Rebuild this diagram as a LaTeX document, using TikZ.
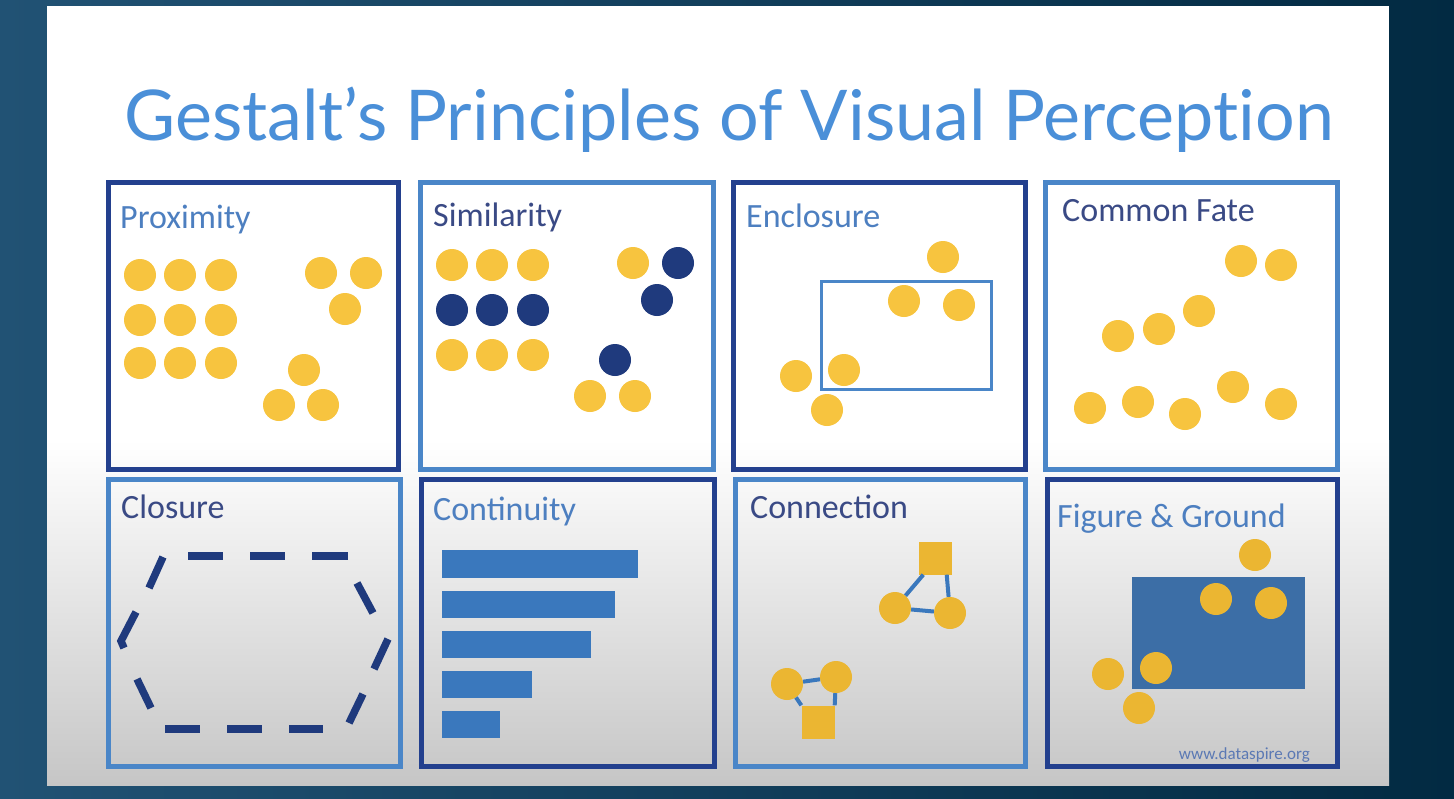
\documentclass[tikz,border=0pt]{standalone}
\usepackage{fontspec}
\setmainfont{Carlito}
\newfontfamily\titlefont[Ligatures=NoCommon]{Lato}
\definecolor{bgL}{HTML}{215274}
\definecolor{bgR}{HTML}{022A42}
\definecolor{titleC}{HTML}{4A8FD8}
\definecolor{navyB}{HTML}{23408E}
\definecolor{lightB}{HTML}{4A86C8}
\definecolor{lblM}{HTML}{4D7FC0}
\definecolor{lblD}{HTML}{3A4A85}
\definecolor{dotY}{HTML}{F7C43F}
\definecolor{dotY2}{HTML}{EBB632}
\definecolor{dotN}{HTML}{1F3A7D}
\definecolor{barB}{HTML}{3A78BD}
\definecolor{figB}{HTML}{3C6EA6}
\definecolor{grayEnd}{HTML}{C6C6C6}
\definecolor{urlC}{HTML}{5B79B4}
\begin{document}
\begin{tikzpicture}[x=1pt,y=-1pt,
  panelA/.style={draw=navyB, line width=5pt},
  panelB/.style={draw=lightB, line width=5pt},
  ydot/.style={circle, fill=dotY, minimum size=32pt, inner sep=0pt},
  ydotb/.style={circle, fill=dotY2, minimum size=32pt, inner sep=0pt},
  ndot/.style={circle, fill=dotN, minimum size=32pt, inner sep=0pt},
  ysq/.style={rectangle, fill=dotY2, minimum size=33pt, inner sep=0pt},
  lbl/.style={anchor=base west, inner sep=0pt, font=\fontsize{34}{39}\selectfont},
  dashseg/.style={draw=dotN, line width=7.5pt},
  bar/.style={fill=barB},
  link/.style={draw=barB, line width=4pt}]
\useasboundingbox (0,0) rectangle (1454,798);
% background
\shade[left color=bgL, right color=bgR] (0,0) rectangle (1454,798);
\fill[white] (47,6) rectangle (1389,785);
\shade[top color=white, bottom color=grayEnd] (47,440) rectangle (1389,785);
% title
\node[anchor=base, inner sep=0pt, text=titleC, font=\titlefont\fontsize{70}{80}\selectfont] (title) at (729,140) {Gestalt’s Principles of Visual Perception};

% panels
\draw[panelA] (108,182) rectangle (398,469);
\draw[panelB] (420,182) rectangle (713,469);
\draw[panelA] (733,182) rectangle (1025,469);
\draw[panelB] (1045,182) rectangle (1337,469);
\draw[panelB] (108,479) rectangle (400,766);
\draw[panelA] (421,479) rectangle (714,766);
\draw[panelB] (735,479) rectangle (1025,766);
\draw[panelA] (1047,479) rectangle (1337,766);

% labels
\node[lbl, text=lblM] (lprox) at (120,228) {Proximity};
\node[lbl, text=lblD] (lsim) at (433,226) {Similarity};
\node[lbl, text=lblM] (lenc) at (746,227) {Enclosure};
\node[lbl, text=lblD] (lcf) at (1062,221) {Common Fate};
\node[lbl, text=lblD] (lclo) at (121,518) {Closure};
\node[lbl, text=lblM] (lcont) at (433,520) {Continuity};
\node[lbl, text=lblD] (lconn) at (750,518) {Connection};
\node[lbl, text=lblM] (lfig) at (1057,527) {Figure \& Ground};

% Proximity
\foreach \i/\x in {1/140,2/180,3/221}{
  \foreach \j/\y in {1/275,2/320,3/363}{
    \node[ydot] (p\i\j) at (\x,\y) {};
  }
}
\node[ydot] (pa) at (321,273) {};
\node[ydot] (pb) at (366,273) {};
\node[ydot] (pc) at (345,309) {};
\node[ydot] (pd) at (304,370) {};
\node[ydot] (pe) at (279,405) {};
\node[ydot] (pf) at (323,405) {};

% Similarity
\foreach \i/\x in {1/452,2/492,3/533}{
  \node[ydot] (s\i a) at (\x,265) {};
  \node[ndot] (s\i b) at (\x,310) {};
  \node[ydot] (s\i c) at (\x,355) {};
}
\node[ydot] (sa) at (633,263) {};
\node[ndot] (sb) at (678,263) {};
\node[ndot] (sc) at (657,300) {};
\node[ndot] (sd) at (615,360) {};
\node[ydot] (se) at (590,396) {};
\node[ydot] (sf) at (635,396) {};

% Enclosure
\draw[draw=lightB, line width=3pt] (821,281) rectangle (991,389);
\node[ydot] (ea) at (943,257) {};
\node[ydot] (eb) at (904,301) {};
\node[ydot] (ec) at (959,305) {};
\node[ydot] (ed) at (796,376) {};
\node[ydot] (ee) at (844,370) {};
\node[ydot] (ef) at (827,410) {};

% Common Fate
\node[ydot] (c1) at (1241,261) {};
\node[ydot] (c2) at (1281,265) {};
\node[ydot] (c3) at (1199,311) {};
\node[ydot] (c4) at (1159,329) {};
\node[ydot] (c5) at (1118,336) {};
\node[ydot] (c6) at (1090,408) {};
\node[ydot] (c7) at (1138,402) {};
\node[ydot] (c8) at (1185,414) {};
\node[ydot] (c9) at (1233,387) {};
\node[ydot] (c10) at (1281,404) {};

% Closure (dashed hexagon)
\draw[dashseg] (188,556) -- (223,556);
\draw[dashseg] (250,556) -- (285,556);
\draw[dashseg] (312,556) -- (348,556);
\draw[dashseg] (165,729) -- (200,729);
\draw[dashseg] (227,729) -- (262,729);
\draw[dashseg] (289,729) -- (323,729);
\draw[dashseg] (163,557) -- (149,588);
\draw[dashseg] (136,612) -- (121,641) -- (124,648);
\draw[dashseg] (137,679) -- (151,708);
\draw[dashseg] (357,583) -- (373,613);
\draw[dashseg] (388,639) -- (374,669);
\draw[dashseg] (363,694) -- (349,723);

% Continuity
\fill[bar] (442,550) rectangle (638,578);
\fill[bar] (442,591) rectangle (615,618);
\fill[bar] (442,631) rectangle (591,658);
\fill[bar] (442,671) rectangle (532,698);
\fill[bar] (442,711) rectangle (500,738);

% Connection
\node[ysq] (q1) at (935,558) {};
\node[ydotb] (k1) at (895,608) {};
\node[ydotb] (k2) at (950,613) {};
\node[ydotb] (k3) at (787,684) {};
\node[ydotb] (k4) at (836,677) {};
\node[ysq] (q2) at (818,722) {};
\draw[link] ([xshift=5pt]q1.south west) -- (k1);
\draw[link] (k1) -- (k2);
\draw[link] ([xshift=-5pt]q1.south east) -- (k2);
\draw[link] (k3) -- (k4);
\draw[link] (k3) -- (q2.north west);
\draw[link] (k4) -- (q2.north east);

% Figure & Ground
\fill[figB] (1132,577) rectangle (1305,689);
\node[ydotb] (f1) at (1255,555) {};
\node[ydotb] (f2) at (1216,599) {};
\node[ydotb] (f3) at (1271,603) {};
\node[ydotb] (f4) at (1108,674) {};
\node[ydotb] (f5) at (1156,668) {};
\node[ydotb] (f6) at (1139,708) {};
\node[anchor=base east, inner sep=0pt, text=urlC, font=\fontsize{17}{20}\selectfont] (url) at (1310,759) {www.dataspire.org};
\end{tikzpicture}
\end{document}
